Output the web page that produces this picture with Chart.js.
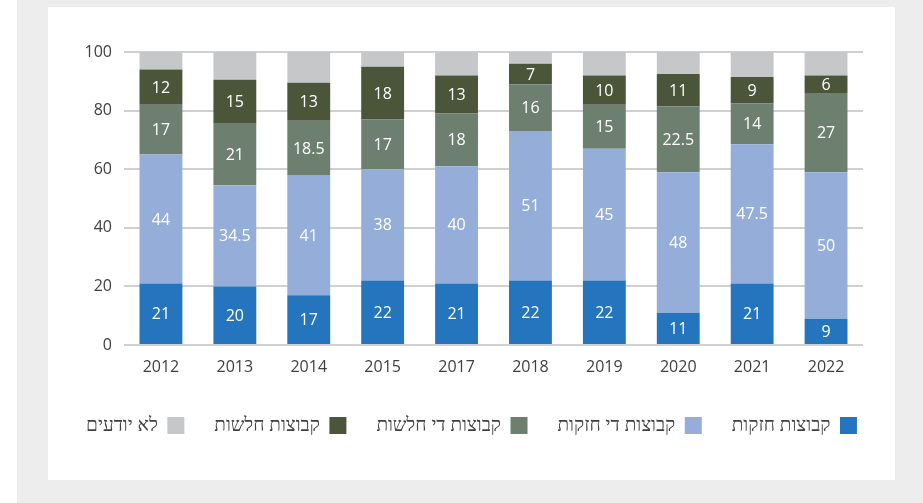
<!DOCTYPE html>
<html>
<head>
<meta charset="utf-8">
<script src="https://cdn.jsdelivr.net/npm/chart.js@4/dist/chart.umd.min.js"></script>
<style>
  html, body { margin: 0; padding: 0; background: #fff; }
  #grey { position: absolute; left: 17px; top: 0; width: 906px; height: 503px; background: #ededed; }
  #panel { position: absolute; left: 48px; top: 7px; width: 847px; height: 473px; background: #fff; }
</style>
</head>
<body>
<div id="grey"></div>
<div id="panel"><canvas id="chart1" width="847" height="473"></canvas></div>
<script>
// שנים
const years = ['2012', '2013', '2014', '2015', '2017', '2018', '2019', '2020', '2021', '2022'];

// ערכי הסדרות (אחוזים)
const strong     = [21, 20, 17, 22, 21, 22, 22, 11, 21, 9];
const fairStrong = [44, 34.5, 41, 38, 40, 51, 45, 48, 47.5, 50];
const fairWeak   = [17, 21, 18.5, 17, 18, 16, 15, 22.5, 14, 27];
const weak       = [12, 15, 13, 18, 13, 7, 10, 11, 9, 6];
const dontKnow   = [6, 9.5, 10.5, 5, 8, 4, 8, 7.5, 8.5, 8];

const seriesNames = ['קבוצות חזקות', 'קבוצות די חזקות', 'קבוצות די חלשות', 'קבוצות חלשות', 'לא יודעים'];
const yTicks = [0, 20, 40, 60, 80, 100];

// תוויות ערכים בתוך העמודות (בלי "לא יודעים")
const barLabels = {
  id: 'barLabels',
  afterDatasetsDraw(chart) {
    const c = chart.ctx;
    c.save();
    c.font = '16px "Open Sans"';
    c.fillStyle = '#ffffff';
    c.textAlign = 'center';
    c.textBaseline = 'middle';
    chart.data.datasets.forEach((ds, i) => {
      if (i === 4) return;
      chart.getDatasetMeta(i).data.forEach((bar, j) => {
        const p = bar.getProps(['x', 'y', 'base'], true);
        c.fillText(String(ds.data[j]), p.x, (p.y + p.base) / 2 + 1);
      });
    });
    c.restore();
  }
};

const ctx = document.getElementById('chart1');
new Chart(ctx, {
  type: 'bar',
  data: {
    labels: years,
    datasets: [
      { label: seriesNames[0], data: strong,     backgroundColor: '#2474be' },
      { label: seriesNames[1], data: fairStrong, backgroundColor: '#94aed9' },
      { label: seriesNames[2], data: fairWeak,   backgroundColor: '#6d8070' },
      { label: seriesNames[3], data: weak,       backgroundColor: '#4a5539' },
      { label: seriesNames[4], data: dontKnow,   backgroundColor: '#c6c7c9' }
    ]
  },
  options: {
    responsive: false,
    animation: false,
    datasets: { bar: { barPercentage: 0.58, categoryPercentage: 1, borderWidth: 0 } },
    layout: { padding: { top: 45, right: 0, bottom: 35, left: 0 } },
    scales: {
      x: {
        stacked: true,
        grid: { display: false },
        border: { display: false },
        ticks: { color: '#404040', font: { family: 'Open Sans', size: 16 }, padding: 5 },
        afterFit(s) { s.height = 41; }
      },
      y: {
        stacked: true,
        min: 0,
        max: 100,
        afterBuildTicks(s) { s.ticks = yTicks.map(v => ({ value: v })); },
        grid: { color: '#d0d0d0', lineWidth: 2, drawTicks: false },
        border: { display: false },
        ticks: { color: '#404040', font: { family: 'Open Sans', size: 16 }, padding: 12 },
        afterFit(s) { s.width = 76; }
      },
      // ציר ריק בצד ימין - רק בשביל השוליים
      yRight: {
        type: 'linear',
        position: 'right',
        grid: { display: false },
        border: { display: false },
        ticks: { display: false },
        afterFit(s) { s.width = 32; }
      }
    },
    plugins: {
      legend: {
        position: 'bottom',
        rtl: true,
        textDirection: 'rtl',
        labels: {
          boxWidth: 17,
          boxHeight: 17,
          padding: 30,
          color: '#404040',
          font: { family: '"Noto Sans"', size: 19 }
        }
      },
      tooltip: { enabled: false }
    }
  },
  plugins: [barLabels]
});
</script>
</body>
</html>
